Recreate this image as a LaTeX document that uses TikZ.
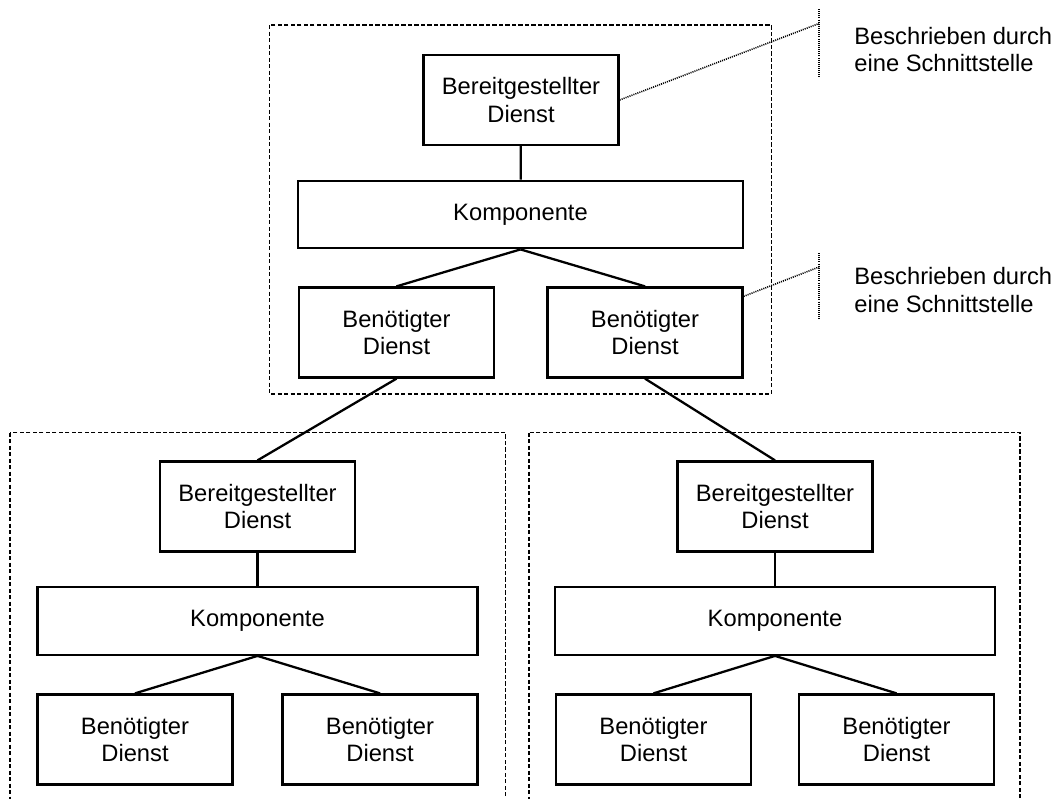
\documentclass[tikz,border=0pt]{standalone}
\usepackage{fontspec}
\setmainfont{Liberation Sans}
\usetikzlibrary{positioning,calc}

\tikzset{
    dienst/.style={draw,line width=1.3pt,minimum width=3.9cm,minimum height=1.8cm,align=center,inner sep=0pt},
    komp/.style={draw,line width=1.3pt,minimum width=8.8cm,minimum height=1.35cm,inner sep=0pt},
    link/.style={line width=1.3pt},
    gruppe/.style={line width=0.9pt,dash pattern=on 2.4pt off 1.3pt},
    hinweis/.style={line width=0.9pt,dash pattern=on 0.6pt off 0.6pt},
    notiz/.style={anchor=west,align=left,inner sep=0pt},
}

\begin{document}
\begin{tikzpicture}[font=\fontsize{13.5}{15.9}\selectfont]
    % Frame
    \clip (0,0) rectangle (21.1,-15.96);

    % Groups
    \draw[gruppe] (5.39,-0.5) rectangle (15.43,-7.88);
    \draw[gruppe] (0.2,-8.65) rectangle (10.11,-16.5);
    \draw[gruppe] (10.58,-8.65) rectangle (20.4,-16.5);

    % Top component
    \node[dienst] (bereitA) at (10.42,-2.0) {Bereitgestellter\\Dienst};
    \node[komp,minimum width=8.9cm] (kompA) at (10.41,-4.29) {Komponente};
    \node[dienst] (benA1) at (7.93,-6.65) {Benötigter\\Dienst};
    \node[dienst] (benA2) at (12.9,-6.65) {Benötigter\\Dienst};
    \draw[link] (bereitA) -- (kompA);
    \draw[link] (kompA.south) -- (benA1.north);
    \draw[link] (kompA.south) -- (benA2.north);

    % Left component
    \node[dienst] (bereitB) at (5.15,-10.13) {Bereitgestellter\\Dienst};
    \node[komp] (kompB) at (5.15,-12.42) {Komponente};
    \node[dienst] (benB1) at (2.7,-14.79) {Benötigter\\Dienst};
    \node[dienst] (benB2) at (7.6,-14.79) {Benötigter\\Dienst};
    \draw[link] (bereitB) -- (kompB);
    \draw[link] (kompB.south) -- (benB1.north);
    \draw[link] (kompB.south) -- (benB2.north);

    % Right component
    \node[dienst] (bereitC) at (15.5,-10.13) {Bereitgestellter\\Dienst};
    \node[komp] (kompC) at (15.5,-12.42) {Komponente};
    \node[dienst] (benC1) at (13.07,-14.79) {Benötigter\\Dienst};
    \node[dienst] (benC2) at (17.93,-14.79) {Benötigter\\Dienst};
    \draw[link] (bereitC) -- (kompC);
    \draw[link] (kompC.south) -- (benC1.north);
    \draw[link] (kompC.south) -- (benC2.north);

    % Dependencies
    \draw[link] (benA1.south) -- (bereitB.north);
    \draw[link] (benA2.south) -- (bereitC.north);

    % Notes
    \coordinate (n1top) at (16.38,-0.18);
    \coordinate (n1bot) at (16.38,-1.54);
    \coordinate (n1end) at (16.38,-0.47);
    \draw[hinweis] (bereitA.east) -- (n1end);
    \draw[hinweis] (n1top) -- (n1bot);
    \node[notiz] (note1) at (17.08,-0.99) {Beschrieben durch\\eine Schnittstelle};

    \coordinate (n2top) at (16.38,-5.06);
    \coordinate (n2bot) at (16.38,-6.4);
    \coordinate (n2end) at (16.38,-5.34);
    \draw[hinweis] ($(benA2.north east)+(0,-0.2)$) -- (n2end);
    \draw[hinweis] (n2top) -- (n2bot);
    \node[notiz] (note2) at (17.08,-5.8) {Beschrieben durch\\eine Schnittstelle};
\end{tikzpicture}
\end{document}
